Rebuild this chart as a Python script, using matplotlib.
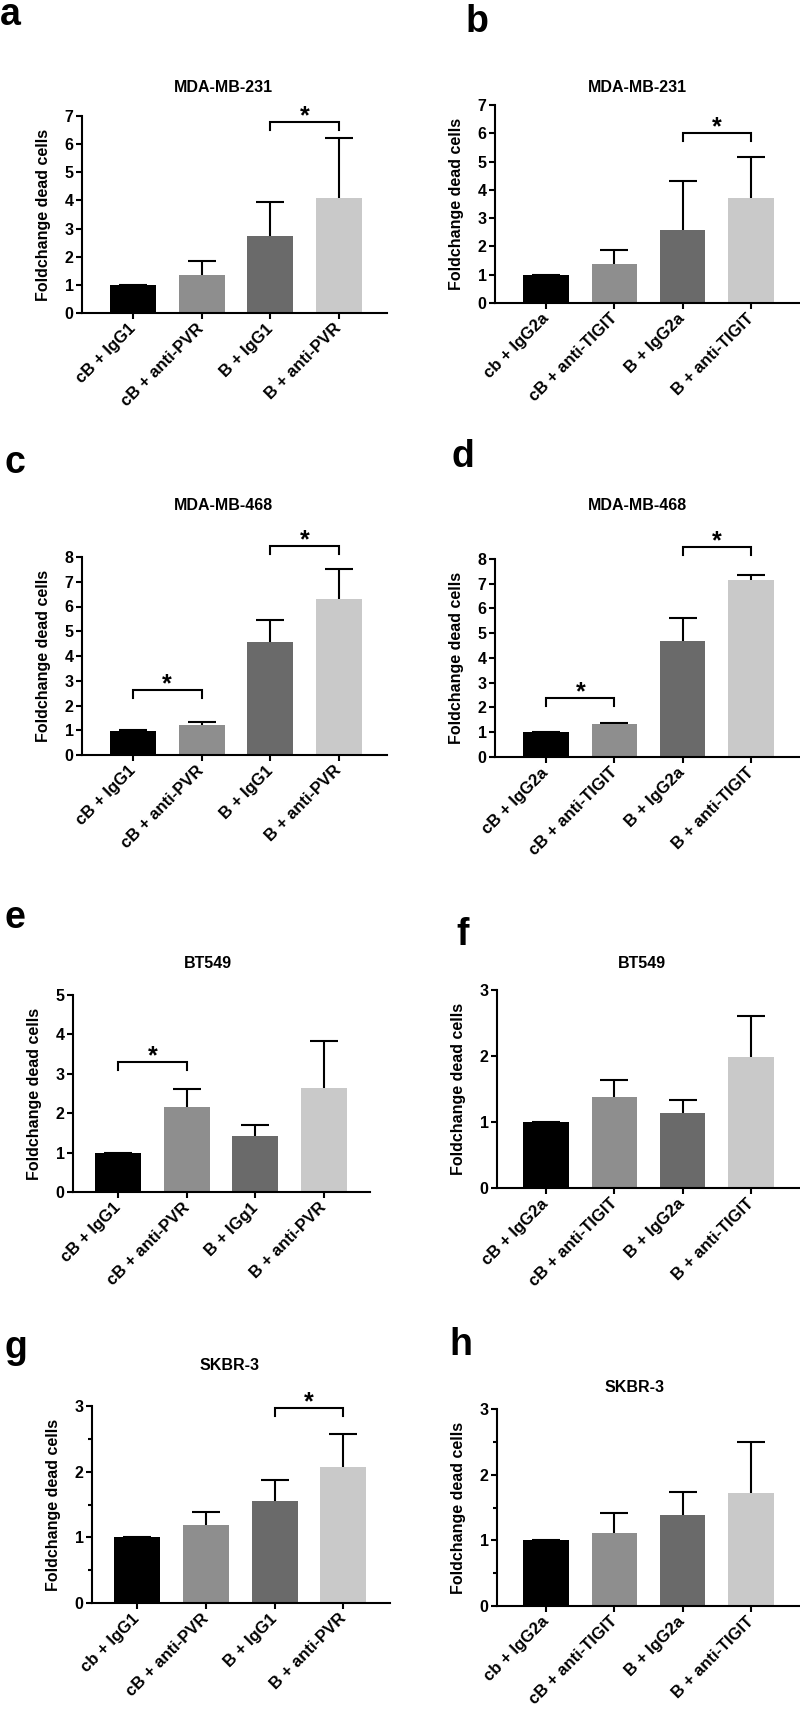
import matplotlib
matplotlib.use("Agg")
import matplotlib.pyplot as plt
from matplotlib.ticker import MultipleLocator

plt.rcParams['font.family'] = ['Liberation Sans', 'DejaVu Sans']
plt.rcParams['font.weight'] = 'bold'

# ---------------- data ----------------
labels_a = ["cB + IgG1", "cB + anti-PVR", "B + IgG1", "B + anti-PVR"]
labels_b = ["cb + IgG2a", "cB + anti-TIGIT", "B + IgG2a", "B + anti-TIGIT"]
labels_c = ["cB + IgG1", "cB + anti-PVR", "B + IgG1", "B + anti-PVR"]
labels_d = ["cB + IgG2a", "cB + anti-TIGIT", "B + IgG2a", "B + anti-TIGIT"]
labels_e = ["cB + IgG1", "cB + anti-PVR", "B + IGg1", "B + anti-PVR"]
labels_f = ["cB + IgG2a", "cB + anti-TIGIT", "B + IgG2a", "B + anti-TIGIT"]
labels_g = ["cb + IgG1", "cB + anti-PVR", "B + IgG1", "B + anti-PVR"]
labels_h = ["cb + IgG2a", "cB + anti-TIGIT", "B + IgG2a", "B + anti-TIGIT"]

titles = ["MDA-MB-231", "MDA-MB-231", "MDA-MB-468", "MDA-MB-468",
          "BT549", "BT549", "SKBR-3", "SKBR-3"]

mean_a = [1.00, 1.36, 2.74, 4.09]
err_a = [0.00, 0.47, 1.20, 2.12]
mean_b = [0.98, 1.37, 2.57, 3.71]
err_b = [0.00, 0.52, 1.75, 1.45]
mean_c = [0.98, 1.22, 4.55, 6.32]
err_c = [0.03, 0.12, 0.90, 1.18]
mean_d = [1.00, 1.33, 4.70, 7.14]
err_d = [0.00, 0.06, 0.92, 0.21]
mean_e = [1.00, 2.17, 1.43, 2.65]
err_e = [0.00, 0.45, 0.27, 1.17]
mean_f = [1.00, 1.38, 1.13, 1.99]
err_f = [0.00, 0.25, 0.20, 0.62]
mean_g = [1.00, 1.19, 1.55, 2.07]
err_g = [0.00, 0.20, 0.32, 0.50]
mean_h = [1.00, 1.11, 1.39, 1.72]
err_h = [0.00, 0.30, 0.35, 0.78]

ymax = [7, 7, 8, 8, 5, 3, 3, 3]
# significance brackets: (left bar, right bar, bracket height)
sig_a = [(2, 3, 6.8)]
sig_b = [(2, 3, 6.0)]
sig_c = [(0, 1, 2.63), (2, 3, 8.46)]
sig_d = [(0, 1, 2.37), (2, 3, 8.47)]
sig_e = [(0, 1, 3.29)]
sig_f = []
sig_g = [(2, 3, 2.97)]
sig_h = []

bar_colors = ["#000000", "#8e8e8e", "#6a6a6a", "#c9c9c9"]

# ---------------- layout (pixels) ----------------
W, H = 800, 1709
# left, right, top, bottom, xlim_left, xlim_right, title(x,y), letter(x,y baseline), minor
layout = [
    (82, 387, 116, 313, -0.74, 3.70, (223, 88), (0, 25), False),
    (495, 800, 105, 303, -0.75, 3.72, (637, 88), (466, 32), False),
    (82, 387, 557, 755, -0.74, 3.70, (223, 505), (5, 473), False),
    (495, 800, 559, 757, -0.75, 3.72, (637, 505), (452, 467), False),
    (73, 370, 995, 1192, -0.66, 3.67, (208, 963), (4, 928), False),
    (497, 800, 990, 1188, -0.72, 3.72, (642, 963), (456, 945), False),
    (92, 390, 1406, 1603, -0.66, 3.68, (230, 1365), (5, 1358), True),
    (497, 800, 1409, 1606, -0.72, 3.72, (635, 1387), (449, 1355), True),
]

panels = [
    ("a", labels_a, mean_a, err_a, sig_a),
    ("b", labels_b, mean_b, err_b, sig_b),
    ("c", labels_c, mean_c, err_c, sig_c),
    ("d", labels_d, mean_d, err_d, sig_d),
    ("e", labels_e, mean_e, err_e, sig_e),
    ("f", labels_f, mean_f, err_f, sig_f),
    ("g", labels_g, mean_g, err_g, sig_g),
    ("h", labels_h, mean_h, err_h, sig_h),
]

fig = plt.figure(figsize=(W / 100, H / 100), dpi=100)
fig.patch.set_facecolor("white")

lw = 1.5
for k, (letter, labels, means, errs, sigs) in enumerate(panels):
    l, r, t, b, x0, x1, tpos, lpos, minor = layout[k]
    ax = fig.add_axes([l / W, 1 - b / H, (r - l) / W, (b - t) / H])
    x = list(range(len(means)))
    ax.bar(x, means, width=0.67, color=bar_colors, zorder=2)
    eb = ax.errorbar(x, means, yerr=[[0] * len(errs), errs], fmt="none",
                     ecolor="black", elinewidth=lw, capsize=10, capthick=lw,
                     zorder=1)
    # keep only the upper caps
    eb[1][0].set_visible(False)
    ax.set_xlim(x0, x1)
    ax.set_ylim(0, ymax[k])
    ax.yaxis.set_major_locator(MultipleLocator(1))
    if minor:
        ax.yaxis.set_minor_locator(MultipleLocator(0.5))
        ax.tick_params(axis="y", which="minor", length=3, width=lw)
    for s in ["top", "right"]:
        ax.spines[s].set_visible(False)
    for s in ["left", "bottom"]:
        ax.spines[s].set_linewidth(lw)
    ax.tick_params(axis="both", which="major", length=4.5, width=lw,
                   labelsize=11.5, pad=1.5)
    ax.set_xticks(x)
    ax.set_xticklabels(labels, rotation=45, ha="right", va="center",
                       rotation_mode="anchor", fontweight="bold", fontsize=12)
    for lab in ax.get_xticklabels():
        lab.set_y(-0.025)
    for lab in ax.get_yticklabels():
        lab.set_fontweight("bold")
    ax.set_ylabel("Foldchange dead cells", fontsize=11.5, fontweight="bold",
                  labelpad=10)
    ax.patch.set_alpha(0)

    drop = 0.04 * ymax[k]
    for (i, j, h) in sigs:
        ax.plot([i, i, j, j], [h - drop, h, h, h - drop], color="black",
                lw=lw, clip_on=False, solid_joinstyle="miter")
        ax.annotate("*", xy=((i + j) / 2, h), xytext=(0, -1),
                    textcoords="offset points", ha="center", va="baseline",
                    fontsize=18, fontweight="bold", annotation_clip=False)

    fig.text(tpos[0] / W, 1 - tpos[1] / H, titles[k], ha="center", va="center",
             fontsize=11.5, fontweight="bold")
    fig.text(lpos[0] / W, 1 - lpos[1] / H, letter, ha="left", va="baseline",
             fontsize=27, fontweight="bold")

fig.savefig("out.png", dpi=100, facecolor="white")
